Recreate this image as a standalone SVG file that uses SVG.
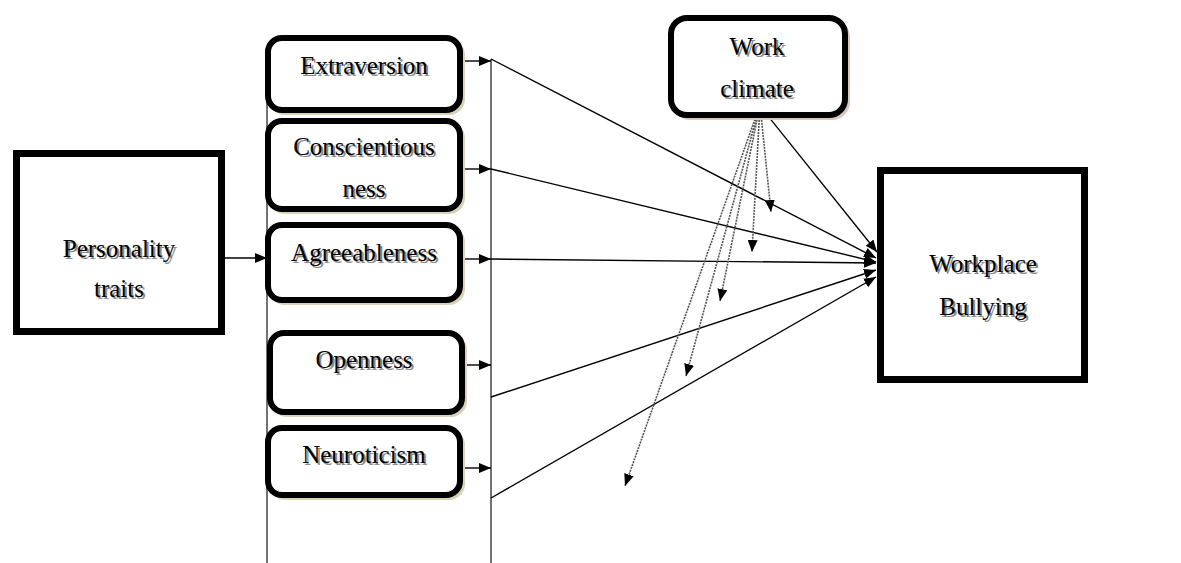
<svg xmlns="http://www.w3.org/2000/svg" width="1181" height="563" viewBox="0 0 1181 563">
<defs>
<marker id="ah" viewBox="0 0 12 10" refX="12" refY="5" markerWidth="12" markerHeight="10" markerUnits="userSpaceOnUse" orient="auto">
<path d="M0,0 L12,5 L0,10 Z" fill="#000"/>
</marker>
</defs>
<style>
.bg{fill:#fff}
.sq{fill:#fff;stroke:#000;stroke-width:7}
.rb{fill:#fff;stroke:#000;stroke-width:6}
.sh{fill:none;stroke:#d8d2b8;stroke-width:4}
text{font-family:'Liberation Serif','Times New Roman','DejaVu Serif',serif;font-size:25px;text-anchor:middle}
.t{fill:#000}
.ts{fill:#8a8a8a}
.ln{stroke:#000;stroke-width:1.4;fill:none}
.vl{stroke:#444;stroke-width:1.5;fill:none}
.dt{stroke:#555;stroke-width:1.6;stroke-dasharray:2 1;fill:none}
</style>
<rect class="bg" x="0" y="0" width="1181" height="563"/>
<g id="connectors">
<line class="vl" x1="267" y1="60" x2="267" y2="563"/>
<line class="vl" x1="491" y1="59" x2="491" y2="563"/>
<line class="ln" x1="225" y1="258" x2="267" y2="258" marker-end="url(#ah)"/>
<line class="ln" x1="463" y1="61" x2="491" y2="61" marker-end="url(#ah)"/>
<line class="ln" x1="463" y1="169" x2="491" y2="169" marker-end="url(#ah)"/>
<line class="ln" x1="463" y1="259" x2="491" y2="259" marker-end="url(#ah)"/>
<line class="ln" x1="463" y1="365" x2="491" y2="365" marker-end="url(#ah)"/>
<line class="ln" x1="463" y1="468" x2="491" y2="468" marker-end="url(#ah)"/>
<line class="ln" x1="491" y1="59" x2="876" y2="258" marker-end="url(#ah)"/>
<line class="ln" x1="491" y1="169" x2="876" y2="262" marker-end="url(#ah)"/>
<line class="ln" x1="491" y1="259" x2="876" y2="263" marker-end="url(#ah)"/>
<line class="ln" x1="491" y1="397" x2="876" y2="270" marker-end="url(#ah)"/>
<line class="ln" x1="491" y1="498" x2="876" y2="277" marker-end="url(#ah)"/>
<line class="ln" x1="760" y1="106" x2="877" y2="252" marker-end="url(#ah)"/>
<line class="dt" x1="760" y1="105" x2="771" y2="212" marker-end="url(#ah)"/>
<line class="dt" x1="760" y1="105" x2="752" y2="252" marker-end="url(#ah)"/>
<line class="dt" x1="760" y1="105" x2="720" y2="301" marker-end="url(#ah)"/>
<line class="dt" x1="760" y1="105" x2="686" y2="376" marker-end="url(#ah)"/>
<line class="dt" x1="760" y1="105" x2="625" y2="486" marker-end="url(#ah)"/>
</g>
<g id="personality">
<rect class="sq" x="16.5" y="153.5" width="205" height="178"/>
<text class="ts" x="121" y="259">Personality</text>
<text class="t" x="119" y="257">Personality</text>
<text class="ts" x="121" y="299">traits</text>
<text class="t" x="119" y="297">traits</text>
</g>
<g id="extraversion">
<rect class="sh" x="271" y="41" width="192" height="72" rx="14"/>
<rect class="rb" x="268" y="38" width="192" height="72" rx="14"/>
<text class="ts" x="366" y="76">Extraversion</text>
<text class="t" x="364" y="74">Extraversion</text>
</g>
<g id="conscientiousness">
<rect class="sh" x="271" y="124" width="192" height="88" rx="14"/>
<rect class="rb" x="268" y="121" width="192" height="88" rx="14"/>
<text class="ts" x="366" y="157">Conscientious</text>
<text class="t" x="364" y="155">Conscientious</text>
<text class="ts" x="366" y="199">ness</text>
<text class="t" x="364" y="197">ness</text>
</g>
<g id="agreeableness">
<rect class="sh" x="271" y="228" width="192" height="75" rx="14"/>
<rect class="rb" x="268" y="225" width="192" height="75" rx="14"/>
<text class="ts" x="366" y="263">Agreeableness</text>
<text class="t" x="364" y="261">Agreeableness</text>
</g>
<g id="openness">
<rect class="sh" x="273" y="336" width="192" height="79" rx="14"/>
<rect class="rb" x="270" y="333" width="192" height="79" rx="14"/>
<text class="ts" x="366" y="370">Openness</text>
<text class="t" x="364" y="368">Openness</text>
</g>
<g id="neuroticism">
<rect class="sh" x="271" y="431" width="192" height="67" rx="14"/>
<rect class="rb" x="268" y="428" width="192" height="67" rx="14"/>
<text class="ts" x="366" y="465">Neuroticism</text>
<text class="t" x="364" y="463">Neuroticism</text>
</g>
<g id="work-climate">
<rect class="sh" x="674" y="21" width="174" height="97" rx="16" style="stroke:#d8c8c0"/>
<rect class="rb" x="671" y="18" width="174" height="97" rx="16"/>
<text class="ts" x="759" y="57">Work</text>
<text class="t" x="757" y="55">Work</text>
<text class="ts" x="759" y="99">climate</text>
<text class="t" x="757" y="97">climate</text>
</g>
<g id="workplace-bullying">
<rect class="sq" x="880.5" y="170.5" width="204" height="209"/>
<text class="ts" x="985" y="274">Workplace</text>
<text class="t" x="983" y="272">Workplace</text>
<text class="ts" x="985" y="317">Bullying</text>
<text class="t" x="983" y="315">Bullying</text>
</g>
</svg>
